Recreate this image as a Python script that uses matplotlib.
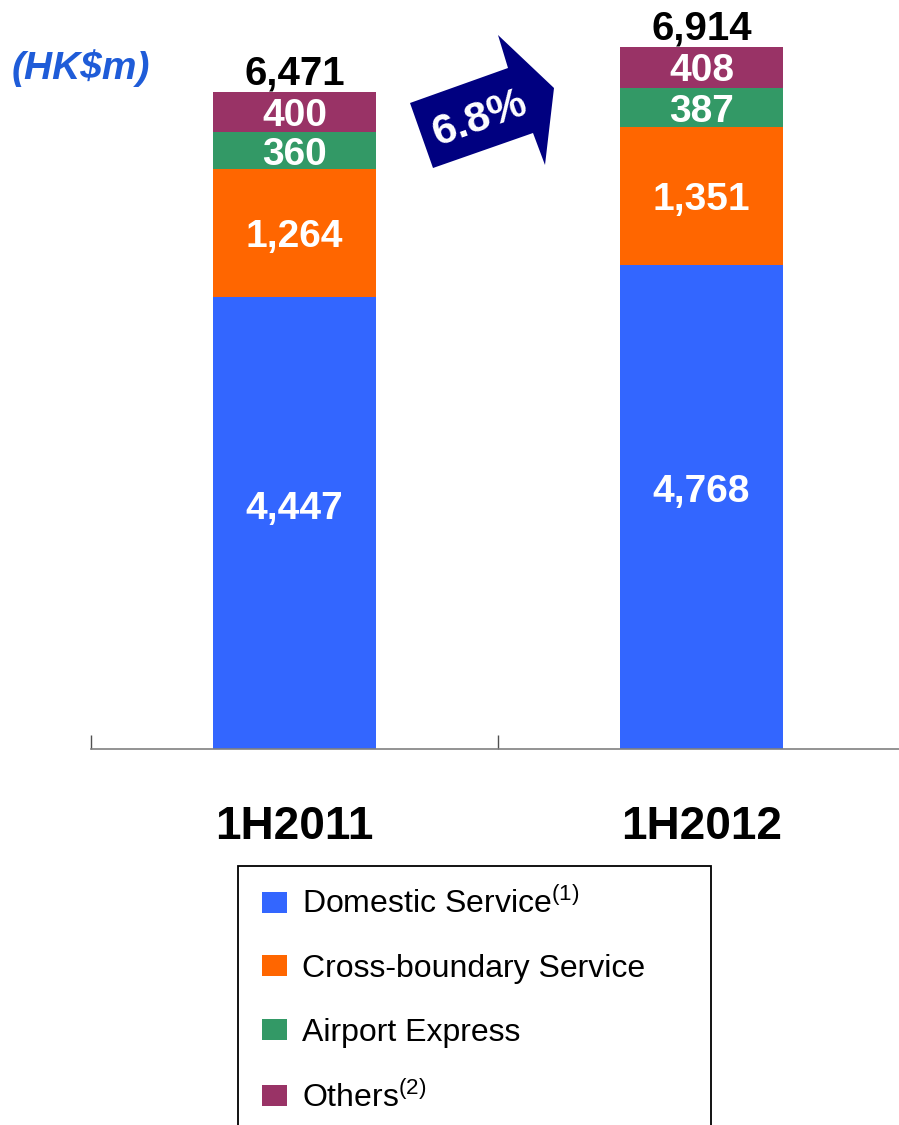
import matplotlib
matplotlib.use("Agg")
import matplotlib.pyplot as plt
import matplotlib.patches as mpatches

plt.rcParams["font.family"] = ["Liberation Sans", "DejaVu Sans"]
plt.rcParams["mathtext.fontset"] = "custom"
plt.rcParams["mathtext.rm"] = "Liberation Sans"

# data (HK$m)
periods = ["1H2011", "1H2012"]
series = ["Domestic Service", "Cross-boundary Service", "Airport Express", "Others"]
legend_labels = [r"Domestic Service$^{\mathrm{(1)}}$", "Cross-boundary Service",
                 "Airport Express", r"Others$^{\mathrm{(2)}}$"]
domestic = [4447, 4768]
cross_boundary = [1264, 1351]
airport_express = [360, 387]
others = [400, 408]
totals = [6471, 6914]
growth_label = "6.8%"

colors = ["#3366FF", "#FF6600", "#339966", "#993366"]
label_pos = [0.54, 0.5, 0.5, 0.5]

W, H = 899, 1125


def fx(x):
    return x / W


def fy(y):
    return 1 - y / H


fig = plt.figure(figsize=(W / 100, H / 100), dpi=100)
ax = fig.add_axes([fx(91), fy(749), (905 - 91) / W, 749 / H])

x = list(range(len(periods)))
bottoms = [0] * len(periods)
handles = []
for vals, col, frac in zip([domestic, cross_boundary, airport_express, others], colors, label_pos):
    bars = ax.bar(x, vals, width=0.4, bottom=bottoms, color=col, edgecolor="none")
    handles.append(bars)
    for xi, v, b in zip(x, vals, bottoms):
        ax.annotate(f"{v:,}", (xi, b + v * frac), xytext=(0, -3), textcoords="offset points",
                    ha="center", va="center", color="white", fontsize=28, fontweight="bold")
    bottoms = [b + v for b, v in zip(bottoms, vals)]

for xi, t, b in zip(x, totals, bottoms):
    ax.annotate(f"{t:,}", (xi, b), xytext=(0, 5), textcoords="offset points",
                ha="center", va="baseline", fontsize=29, fontweight="bold")

ax.set_xlim(-0.5, 1.5)
ax.set_ylim(0, 7372)
for s in ["top", "right", "left"]:
    ax.spines[s].set_visible(False)
ax.spines["bottom"].set_color("#808080")
ax.spines["bottom"].set_linewidth(1.2)
ax.set_yticks([])
ax.set_xticks(x)
ax.set_xticklabels(periods, fontsize=33, fontweight="bold")
ax.tick_params(axis="x", which="major", length=0, pad=40)
ax.set_xticks([-0.5, 0.5], minor=True)
ax.tick_params(axis="x", which="minor", direction="in", length=10, color="#505050", width=1)

# unit label
fig.text(fx(12), fy(68), "(HK$m)", fontsize=28, fontweight="bold", style="italic",
         color="#1F5CD8", ha="left", va="center")

# growth arrow
arrow_pts = [(410, 103), (508, 68), (498, 35), (554, 88), (545, 165), (533, 133), (433, 168)]
fig.patches.append(mpatches.Polygon([(fx(a), fy(b)) for a, b in arrow_pts], closed=True,
                                    transform=fig.transFigure, facecolor="#000080",
                                    edgecolor="none"))
fig.text(fx(480), fy(119), growth_label, rotation=20, fontsize=31, fontweight="bold",
         color="white", ha="center", va="center", rotation_mode="anchor")

# legend with its own frame
fig.patches.append(mpatches.Rectangle((fx(238), fy(1135)), (711 - 238) / W, (1135 - 866) / H,
                                      transform=fig.transFigure, facecolor="white",
                                      edgecolor="black", linewidth=1.3, zorder=0))
fig.legend(handles, legend_labels, loc="upper left", bbox_to_anchor=(fx(249), fy(875)),
           frameon=False, fontsize=23, handlelength=0.8, handleheight=0.65,
           handletextpad=0.45, labelspacing=1.05, borderaxespad=0)

fig.savefig("out.png", dpi=100)
